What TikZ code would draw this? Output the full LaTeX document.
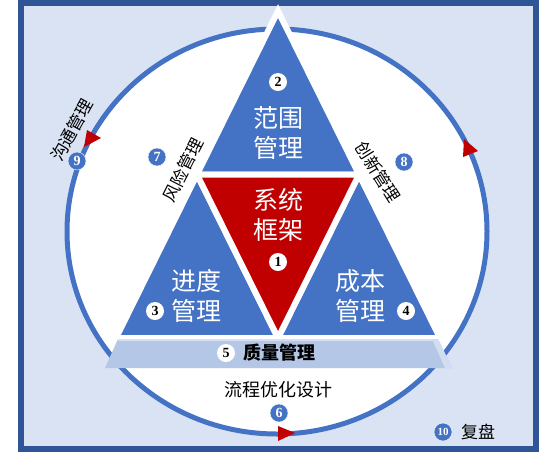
\documentclass[tikz,border=0pt]{standalone}
\usepackage{fontspec}
\setmainfont{Liberation Serif}
\newfontfamily\cjk{Noto Sans CJK SC}
\definecolor{frameblue}{HTML}{2F5597}
\definecolor{paleblue}{HTML}{DAE3F3}
\definecolor{midblue}{HTML}{4472C4}
\definecolor{barblue}{HTML}{B4C7E7}
\definecolor{darkred}{HTML}{C00000}
\begin{document}
\begin{tikzpicture}[x=1pt,y=-1pt]
\useasboundingbox (0,0) rectangle (556,453);
\draw[frameblue,line width=6pt,fill=paleblue] (21,3) rectangle (536.3,448.5);
\draw[midblue,line width=5pt,fill=white] (277,231.5) ellipse [x radius=210pt, y radius=202.5pt];
% triangle corners and side midpoints
\coordinate (A) at (278,11);
\coordinate (B) at (116,338);
\coordinate (C) at (440,338);
\coordinate (AB) at (197,174.5);
\coordinate (AC) at (359,174.5);
\coordinate (BC) at (278,338);
\begin{scope}[white,line width=6pt,line join=miter]
    \filldraw[fill=midblue] (A) -- (AB) -- (AC) -- cycle;
    \filldraw[fill=midblue] (AB) -- (B) -- (BC) -- cycle;
    \filldraw[fill=midblue] (AC) -- (BC) -- (C) -- cycle;
    \filldraw[fill=darkred] (AB) -- (AC) -- (BC) -- cycle;
\end{scope}
% quality bar
\fill[barblue] (118,339) -- (438,339) -- (452,368) -- (105,368) -- cycle;
\draw[barblue!55!white,line width=1.5pt] (118,340) -- (438,340);
\fill[barblue!60!white] (432,339) -- (438,339) -- (452,368) -- (445,368) -- cycle;
% arrow marks on the ring
\fill[darkred] (87,130) -- (101,138) -- (84,147) -- cycle;
\fill[darkred] (464,139) -- (478,151) -- (463,157) -- cycle;
\fill[darkred] (278,426) -- (295,433) -- (278,441) -- cycle;
\begin{scope}[every node/.style={text=white,align=center,
              font=\cjk\fontsize{25}{30}\selectfont}]
    \node (fw) at (278,133) {范围\\管理};
    \node (xt) at (278,215) {系统\\框架};
    \node (jd) at (196,296) {进度\\管理};
    \node (cb) at (360,296) {成本\\管理};
\end{scope}
\begin{scope}[every node/.style={text=black,
              font=\cjk\fontsize{17}{17}\selectfont}]
    \node[rotate=61] (gt) at (72,130) {沟通管理};
    \node[rotate=63] (fx) at (183,170) {风险管理};
    \node[rotate=-58] (cx) at (378,172) {创新管理};
    \node[font=\cjk\fontsize{18}{18}\selectfont] (lc) at (278,390) {流程优化设计};
    \node (fp) at (478,432) {复盘};
    \node[font=\cjk\bfseries\fontsize{18}{18}\selectfont] (zl) at (279,353) {质量管理};
\end{scope}
\begin{scope}[every node/.style={circle,fill=white,text=black,inner sep=0pt,
              minimum size=18pt,font=\bfseries\fontsize{14}{14}\selectfont}]
    \node (n1) at (278,262) {1};
    \node (n2) at (278,82) {2};
    \node (n3) at (155,311) {3};
    \node (n4) at (406,311) {4};
    \node (n5) at (226,353) {5};
\end{scope}
\begin{scope}[every node/.style={circle,fill=midblue,draw=white,thin,text=white,
              inner sep=0pt,minimum size=18pt,font=\bfseries\fontsize{14}{14}\selectfont}]
    \node (n6) at (279,413) {6};
    \node (n7) at (157,157) {7};
    \node (n8) at (404,162) {8};
    \node (n9) at (77,161) {9};
    \node[font=\bfseries\fontsize{11}{11}\selectfont] (n10) at (443,432) {10};
\end{scope}
\end{tikzpicture}
\end{document}
